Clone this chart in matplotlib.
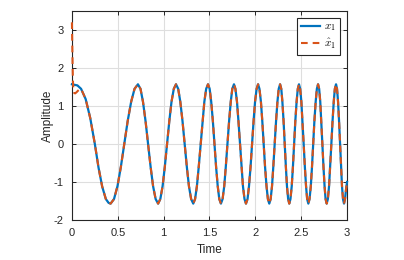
import matplotlib
matplotlib.use("Agg")
import matplotlib.pyplot as plt

# ---- data ----
t_x1 = [0.000, 0.060, 0.100, 0.150, 0.200, 0.250, 0.290, 0.330, 0.370, 0.400,
        0.422, 0.459, 0.497, 0.534, 0.571, 0.608, 0.646, 0.683,
        0.720, 0.748, 0.775, 0.803, 0.830, 0.858, 0.885, 0.913,
        0.940, 0.964, 0.989, 1.013, 1.038, 1.062, 1.086, 1.111,
        1.135, 1.159, 1.182, 1.206, 1.229, 1.253, 1.276, 1.300,
        1.323, 1.343, 1.363, 1.383, 1.404, 1.424, 1.444, 1.464,
        1.484, 1.502, 1.519, 1.537, 1.555, 1.572, 1.590, 1.607,
        1.625, 1.643, 1.661, 1.678, 1.696, 1.714, 1.732, 1.749,
        1.767, 1.783, 1.800, 1.816, 1.833, 1.849, 1.865, 1.882,
        1.898, 1.915, 1.931, 1.948, 1.964, 1.981, 1.997, 2.014,
        2.030, 2.045, 2.061, 2.076, 2.091, 2.106, 2.122, 2.137,
        2.152, 2.167, 2.182, 2.196, 2.211, 2.226, 2.241, 2.255,
        2.270, 2.283, 2.295, 2.308, 2.320, 2.333, 2.345, 2.358,
        2.370, 2.383, 2.397, 2.410, 2.423, 2.436, 2.450, 2.463,
        2.476, 2.489, 2.502, 2.514, 2.527, 2.540, 2.553, 2.565,
        2.578, 2.591, 2.605, 2.618, 2.631, 2.644, 2.658, 2.671,
        2.684, 2.696, 2.708, 2.719, 2.731, 2.743, 2.755, 2.766,
        2.778, 2.791, 2.804, 2.816, 2.829, 2.842, 2.855, 2.867,
        2.880, 2.891, 2.902, 2.913, 2.924, 2.934, 2.945, 2.956,
        2.967, 2.978, 2.989, 3.000]

x1 = [1.57, 1.54, 1.45, 1.18, 0.68, 0.00, -0.62, -1.12, -1.45, -1.55,
      -1.57, -1.45, -1.11, -0.60, 0.00, 0.60, 1.11, 1.45,
      1.57, 1.45, 1.11, 0.60, 0.00, -0.60, -1.11, -1.45,
      -1.57, -1.45, -1.11, -0.60, 0.00, 0.60, 1.11, 1.45,
      1.57, 1.45, 1.11, 0.60, 0.00, -0.60, -1.11, -1.45,
      -1.57, -1.45, -1.11, -0.60, 0.00, 0.60, 1.11, 1.45,
      1.57, 1.45, 1.11, 0.60, 0.00, -0.60, -1.11, -1.45,
      -1.57, -1.45, -1.11, -0.60, 0.00, 0.60, 1.11, 1.45,
      1.57, 1.45, 1.11, 0.60, 0.00, -0.60, -1.11, -1.45,
      -1.57, -1.45, -1.11, -0.60, 0.00, 0.60, 1.11, 1.45,
      1.57, 1.45, 1.11, 0.60, 0.00, -0.60, -1.11, -1.45,
      -1.57, -1.45, -1.11, -0.60, 0.00, 0.60, 1.11, 1.45,
      1.57, 1.45, 1.11, 0.60, 0.00, -0.60, -1.11, -1.45,
      -1.57, -1.45, -1.11, -0.60, 0.00, 0.60, 1.11, 1.45,
      1.57, 1.45, 1.11, 0.60, 0.00, -0.60, -1.11, -1.45,
      -1.57, -1.45, -1.11, -0.60, 0.00, 0.60, 1.11, 1.45,
      1.57, 1.45, 1.11, 0.60, 0.00, -0.60, -1.11, -1.45,
      -1.57, -1.45, -1.11, -0.60, 0.00, 0.60, 1.11, 1.45,
      1.57, 1.45, 1.11, 0.60, 0.00, -0.60, -1.11, -1.45,
      -1.57, -1.45, -1.20, -1.00]

# estimate: its own start (transient), then it follows x1
t_hat_start = [0.000, 0.004, 0.008, 0.012, 0.018, 0.025, 0.035, 0.050, 0.070, 0.090]
xhat_start = [3.20, 2.60, 2.00, 1.60, 1.40, 1.34, 1.33, 1.36, 1.41, 1.45]

x_ticks = [0, 0.5, 1, 1.5, 2, 2.5, 3]
x_tick_labels = ["0", "0.5", "1", "1.5", "2", "2.5", "3"]
y_ticks = [-2, -1, 0, 1, 2, 3]
y_tick_labels = ["-2", "-1", "0", "1", "2", "3"]

t_hat = t_hat_start + t_x1[2:]
xhat = xhat_start + x1[2:]

plt.rcParams["font.family"] = ["Liberation Sans", "DejaVu Sans"]
plt.rcParams["mathtext.fontset"] = "cm"

fig = plt.figure(figsize=(4.04, 2.60), dpi=100)
ax = fig.add_axes([0.178, 0.154, 0.681, 0.804])

blue = (0.0, 0.447, 0.741)
red = (0.850, 0.325, 0.098)

ax.plot(t_x1, x1, color=blue, lw=1.6, label=r"$x_1$", zorder=3, clip_on=False)
ax.plot(t_hat, xhat, color=red, lw=1.5, ls=(0, (3.2, 2.4)), label=r"$\hat{x}_1$",
        zorder=3, clip_on=False)

ax.set_xlim(0, 3)
ax.set_ylim(-2, 3.5)
ax.set_xticks(x_ticks)
ax.set_xticklabels(x_tick_labels)
ax.set_yticks(y_ticks)
ax.set_yticklabels(y_tick_labels)

ax.grid(True, color="#dedede", lw=0.8)
ax.set_axisbelow(True)
dark = "#262626"
for s in ax.spines.values():
    s.set_color(dark)
    s.set_linewidth(0.8)
ax.tick_params(direction="in", top=True, right=True, length=3, width=0.7,
               colors=dark, labelsize=8, labelcolor=dark)
ax.tick_params(axis="x", pad=6)
ax.tick_params(axis="y", pad=6)

ax.set_xlabel("Time", fontsize=8.5, color=dark, labelpad=4)
ax.set_ylabel("Amplitude", fontsize=8.5, color=dark)
ax.yaxis.set_label_coords(-0.066, 0.5)

leg = ax.legend(loc="upper right", fontsize=8, fancybox=False, framealpha=1,
                edgecolor=dark, handlelength=1.7, borderpad=0.35,
                labelspacing=0.35, handletextpad=0.4, borderaxespad=0.6)
leg.get_frame().set_linewidth(0.8)
leg.set_zorder(5)

fig.savefig("out.png", dpi=100)
